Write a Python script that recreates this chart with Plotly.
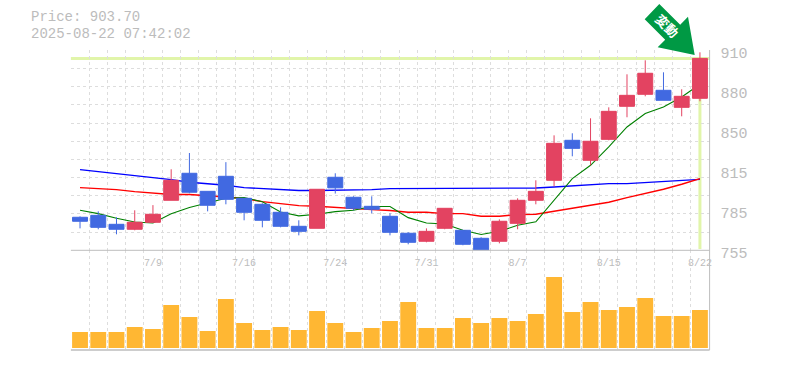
import plotly.graph_objects as go

dates = ["7/3","7/4","7/7","7/8","7/9","7/10","7/11","7/14","7/15","7/16","7/17","7/18",
         "7/22","7/23","7/24","7/25","7/28","7/29","7/30","7/31","8/1","8/4","8/5","8/6",
         "8/7","8/8","8/12","8/13","8/14","8/15","8/18","8/19","8/20","8/21","8/22"]
opens = [780.6,782.1,775.15,771.3,776.7,793.75,814.7,800.7,812.35,795.3,790.65,784.45,
         773.6,772.05,811.6,796.1,789.1,781.35,768.2,762.0,772.05,770.5,764.3,762.0,
         775.9,793.75,809.25,840.25,824.75,841.0,866.6,875.9,879.0,865.8,872.8]
closes = [777.5,772.8,771.3,776.7,782.9,809.25,800.0,789.9,794.5,784.45,778.25,773.6,
          769.7,802.3,803.4,787.55,786.8,768.95,761.2,769.7,787.55,759.65,755.0,777.5,
          793.75,800.7,837.9,834.0,839.5,862.7,875.1,892.2,871.25,874.35,903.7]
highs = [781.3,785.2,780.6,786.0,790.0,817.8,830.4,800.7,823.3,795.3,791.4,788.3,
         778.25,802.3,814.7,796.85,796.85,783.7,769.0,772.0,787.55,770.5,765.1,779.0,
         795.3,809.25,844.1,845.7,857.3,865.8,891.4,902.25,892.95,879.8,908.45]
lows = [772.0,771.3,767.4,770.5,782.1,793.75,799.2,785.2,790.65,778.25,772.8,772.8,
        766.6,772.05,799.0,786.0,783.7,766.6,759.65,761.2,771.3,758.9,755.0,760.4,
        771.3,790.65,804.6,827.85,820.9,840.25,858.1,874.35,871.25,858.85,870.5]
ma_short = [786.0,783.4,779.8,776.9,776.2,783.4,788.1,791.7,795.3,795.8,792.7,784.7,
            781.7,782.9,785.0,786.0,788.9,788.9,780.3,776.2,775.4,770.5,767.2,769.7,
            774.4,777.1,793.8,810.6,820.9,835.1,850.6,861.0,866.1,873.8,883.7]
ma_mid = [803.6,802.8,802.0,800.5,799.4,798.2,798.2,797.4,796.3,795.1,792.7,791.2,
          789.6,789.1,788.1,787.3,786.5,785.8,784.5,784.5,783.4,783.4,781.4,781.4,
          782.7,782.9,785.2,787.6,789.9,792.2,795.8,798.9,802.3,806.2,810.6]
ma_long = [817.5,816.0,814.1,812.9,811.0,809.8,807.7,806.7,805.4,803.6,802.8,802.0,
           801.3,801.3,801.5,802.0,802.0,802.8,802.8,802.8,802.8,802.8,802.8,802.8,
           802.8,803.3,804.1,805.1,805.9,806.7,806.7,807.5,808.2,809.0,810.0]
volumes = [16,16,16,21,19,43,31,17,49,25,18,21,18,37,25,16,20,27,46,20,20,30,25,30,27,
           34,71,36,46,38,41,50,32,32,38]
y_ticks = [910,879,848,817,786,755]
y_labels = ["910","880","850","815","785","755"]
date_labels = ["7/9","7/16","7/24","7/31","8/7","8/15","8/22"]
price_title = "Price: 903.70"
stamp_title = "2025-08-22 07:42:02"
badge = "変動"

W, H = 785, 370
xs = list(range(len(dates)))
Y_MIN, Y_MAX = 755, 910
grid_y = [Y_MIN + k * (Y_MAX - Y_MIN) / 11 for k in range(12)]
grid_x = [i - 0.5 for i in range(len(dates) + 1)]
tick_pos = [dates.index(d) for d in date_labels]
last_close = closes[-1]

GRID = "#dddddd"; AXIS = "#bdbdbd"; TXT = "#bcbcbc"; HL = "#e1f5aa"
UP = "#e34361"; DOWN = "#4169e1"; VOL = "#ffb733"; ARROW = "#009944"
FONT = "Liberation Mono"

fig = go.Figure()
for vals, col, wd in ((ma_long, "#0000ff", 1.4), (ma_mid, "#ff0000", 1.4), (ma_short, "#008000", 1.1)):
    fig.add_trace(go.Scatter(x=xs, y=vals, mode="lines", xaxis="x", yaxis="y",
                             line=dict(color=col, width=wd, shape="linear"), hoverinfo="skip"))
fig.add_trace(go.Candlestick(x=xs, open=opens, high=highs, low=lows, close=closes,
                             xaxis="x", yaxis="y3", whiskerwidth=0,
                             increasing=dict(line=dict(color=UP, width=1), fillcolor=UP),
                             decreasing=dict(line=dict(color=DOWN, width=1), fillcolor=DOWN)))
fig.add_trace(go.Bar(x=xs, y=volumes, xaxis="x2", yaxis="y2", marker=dict(color=VOL, line_width=0),
                     width=0.87))

PX0, PX1 = 70.9, 709.6
def dy(a, b):
    return [1 - b / H, 1 - a / H]

minor_x = dict(tickmode="array", tickvals=grid_x, showgrid=True, gridcolor=GRID, griddash="3px,3px",
               gridwidth=1, ticklen=0)
fig.update_layout(
    width=W, height=H, margin=dict(l=0, r=0, t=0, b=0, autoexpand=False), autosize=False, showlegend=False,
    paper_bgcolor="white", plot_bgcolor="white", boxgap=0.18, boxgroupgap=0,
    font=dict(family=FONT, color=TXT),
    xaxis=dict(domain=[PX0 / W, PX1 / W], anchor="y", range=[-0.5, 34.53], showgrid=False,
               tickmode="array", tickvals=tick_pos, ticktext=date_labels,
               tickfont=dict(size=10, color=TXT), ticks="", zeroline=False, showline=False,
               minor=minor_x, rangeslider=dict(visible=False), ticklabelstandoff=5),
    yaxis=dict(domain=dy(50.3, 250.3), anchor="x", range=[Y_MIN, Y_MAX], side="right",
               tickmode="array", tickvals=y_ticks, ticktext=y_labels, ticklabelshift=2,
               tickfont=dict(size=15, color=TXT), showgrid=False, zeroline=False, ticks="",
               minor=dict(tickmode="array", tickvals=grid_y, showgrid=True, gridcolor=GRID,
                          griddash="3px,3px", gridwidth=1, ticklen=0),
               showline=False, ticklabelstandoff=10),
    yaxis3=dict(overlaying="y", anchor="x", range=[Y_MIN, Y_MAX], side="right", visible=False),
    xaxis2=dict(domain=[PX0 / W, PX1 / W], anchor="y2", range=[-0.5, 34.53], showticklabels=False,
                showgrid=False, zeroline=False, minor=minor_x, ticks=""),
    yaxis2=dict(domain=dy(250.3, 350), anchor="x2", range=[-2, 97.7], showticklabels=False,
                showgrid=False, zeroline=False, ticks=""),
    shapes=[
        dict(type="line", layer="below", xref="paper", yref="y", x0=PX0 / W, x1=PX1 / W, y0=last_close, y1=last_close,
             line=dict(color=HL, width=3)),
        dict(type="line", layer="below", xref="x", yref="y", x0=xs[-1], x1=xs[-1], y0=Y_MIN + 1, y1=last_close,
             line=dict(color=HL, width=3)),
        dict(type="line", xref="paper", yref="paper", x0=PX0 / W, x1=PX1 / W, y0=1 - 250.3 / H, y1=1 - 250.3 / H,
             line=dict(color=AXIS, width=1)),
        dict(type="line", xref="paper", yref="paper", x0=PX0 / W, x1=PX1 / W, y0=1 - 350 / H, y1=1 - 350 / H,
             line=dict(color=AXIS, width=1.5)),
        dict(type="line", xref="paper", yref="paper", x0=PX1 / W, x1=PX1 / W, y0=1 - 350 / H, y1=1 - 50 / H,
             line=dict(color=AXIS, width=1)),
        dict(type="path", xref="paper", yref="paper", fillcolor=ARROW, line_width=0,
             path="M " + " L ".join(f"{x / W:.5f},{1 - y / H:.5f}" for x, y in
                 [(659.3, 4), (644.7, 19.3), (665.2, 39.8), (657.7, 47.3), (694.7, 55), (688, 16.7), (680.2, 24.8)]) + " Z"),
    ],
    annotations=[
        dict(text=price_title, xref="paper", yref="paper", x=29 / W, y=1 - 17.5 / H, xanchor="left", yanchor="middle",
             showarrow=False, font=dict(size=14, color=TXT, family=FONT)),
        dict(text=stamp_title, xref="paper", yref="paper", x=29 / W, y=1 - 34 / H, xanchor="left", yanchor="middle",
             showarrow=False, font=dict(size=14, color=TXT, family=FONT)),
        dict(text=f"<b>{badge}</b>", xref="paper", yref="paper", x=667 / W, y=1 - 26 / H, xanchor="center", yanchor="middle",
             textangle=45, showarrow=False, font=dict(size=13, color="white", family="Noto Sans CJK JP")),
    ],
)
fig.write_html("out.html", config=dict(displayModeBar=False),
               post_script="document.body.style.margin='0';")
